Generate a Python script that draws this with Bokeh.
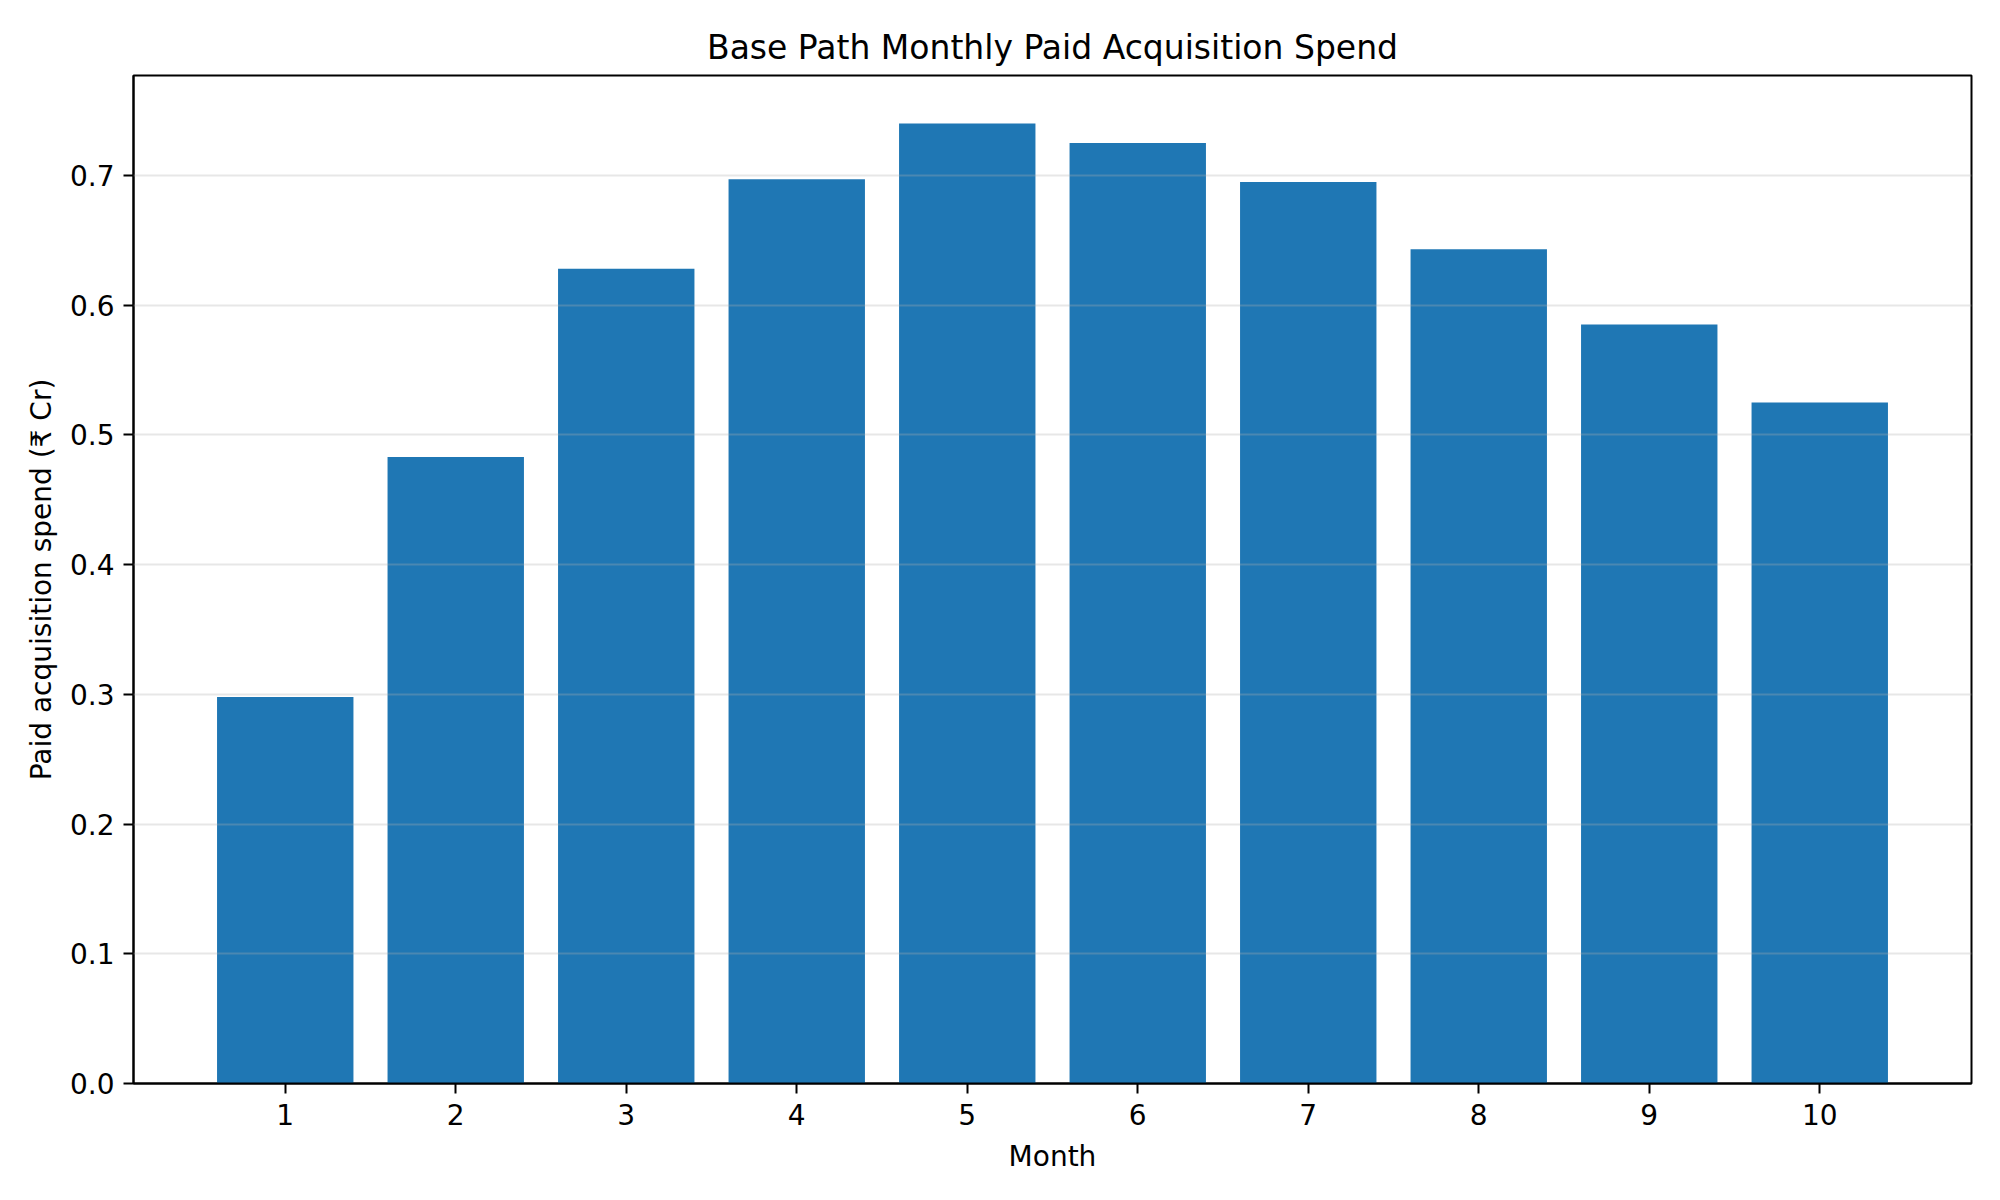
from bokeh.plotting import figure
from bokeh.models import FixedTicker, Range1d, NumeralTickFormatter
from bokeh.embed import file_html
from bokeh.resources import INLINE

months = [1, 2, 3, 4, 5, 6, 7, 8, 9, 10]
spend = [0.298, 0.483, 0.628, 0.697, 0.740, 0.725, 0.695, 0.643, 0.585, 0.525]
y_ticks = [0.0, 0.1, 0.2, 0.3, 0.4, 0.5, 0.6, 0.7]

FONT = "DejaVu Sans"

p = figure(width=1984, height=1184, output_backend="svg", toolbar_location=None,
           title="Base Path Monthly Paid Acquisition Spend",
           x_range=Range1d(0.11, 10.89), y_range=Range1d(0, 0.777),
           x_axis_label="Month", y_axis_label="Paid acquisition spend (₹ Cr)",
           min_border_left=133, min_border_right=13, min_border_top=75, min_border_bottom=101)

p.vbar(x=months, top=spend, width=0.8, color="#1f77b4", line_color=None)

p.title.align = "center"
p.title.text_font = FONT
p.title.text_font_size = "33px"
p.title.text_font_style = "normal"
p.title.text_color = "black"
p.title.standoff = 17

for ax in (p.xaxis, p.yaxis):
    ax.axis_label_text_font = FONT
    ax.axis_label_text_font_size = "28px"
    ax.axis_label_text_font_style = "normal"
    ax.axis_label_text_color = "black"
    ax.major_label_text_font = FONT
    ax.major_label_text_font_size = "28px"
    ax.major_label_text_color = "black"
    ax.axis_line_width = 2
    ax.axis_line_color = "black"
    ax.major_tick_line_width = 2
    ax.major_tick_line_color = "black"
    ax.major_tick_out = 10
    ax.major_tick_in = 0
    ax.minor_tick_line_color = None

p.xaxis.major_label_standoff = 10
p.xaxis.axis_label_standoff = 12
p.yaxis.major_label_standoff = 9
p.yaxis.axis_label_standoff = 9

p.xaxis.ticker = FixedTicker(ticks=months)
p.yaxis.ticker = FixedTicker(ticks=y_ticks)
p.yaxis.formatter = NumeralTickFormatter(format="0.0")

p.xgrid.grid_line_color = None
p.ygrid.grid_line_color = "#b0b0b0"
p.ygrid.grid_line_alpha = 0.3
p.ygrid.grid_line_width = 2
p.ygrid.level = "overlay"

p.outline_line_color = "black"
p.outline_line_width = 2
p.outline_line_alpha = 1

open("out.html", "w").write(file_html(p, INLINE))
